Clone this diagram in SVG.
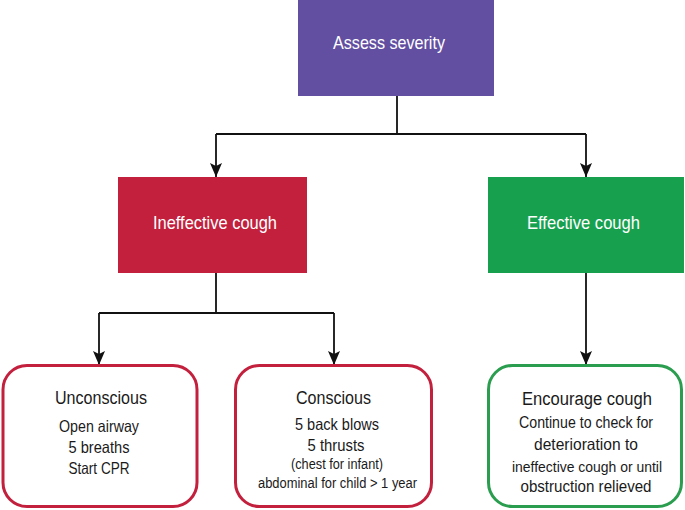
<svg xmlns="http://www.w3.org/2000/svg" width="685" height="510" viewBox="0 0 685 510">
<defs>
<marker id="arr" markerUnits="userSpaceOnUse" markerWidth="14" markerHeight="12" refX="14" refY="6" orient="auto" viewBox="0 0 14 12">
<path d="M0,0 L3,6 L0,12 L14,6 Z" fill="#111"/>
</marker>
<style>
.t{font-family:"Liberation Sans",Arial,sans-serif;text-anchor:middle}
.w{fill:#ffffff;font-size:18.5px}
.h{fill:#1a1a1a;font-size:18px}
.b{fill:#1a1a1a;font-size:16.5px}
.s{fill:#1a1a1a;font-size:14px}
.c{fill:none;stroke:#111;stroke-width:1.8}
</style>
</defs>
<rect width="685" height="510" fill="#ffffff"/>
<g id="connectors">
<path class="c" d="M397,96 V134 M216,134 H586"/>
<path class="c" d="M216,134 V177" marker-end="url(#arr)"/>
<path class="c" d="M586,134 V177" marker-end="url(#arr)"/>
<path class="c" d="M216,273 V313 M99,313 H334"/>
<path class="c" d="M99,313 V365" marker-end="url(#arr)"/>
<path class="c" d="M334,313 V365" marker-end="url(#arr)"/>
<path class="c" d="M586,273 V365" marker-end="url(#arr)"/>
</g>
<g id="assess">
<rect x="298" y="0" width="196" height="96" fill="#624fa1"/>
<text class="t w" x="389" y="49" textLength="112" lengthAdjust="spacingAndGlyphs">Assess severity</text>
</g>
<g id="ineffective">
<rect x="118" y="177" width="189" height="96" fill="#c2203d"/>
<text class="t w" x="215" y="229" textLength="124" lengthAdjust="spacingAndGlyphs">Ineffective cough</text>
</g>
<g id="effective">
<rect x="488" y="177" width="196" height="96" fill="#17a14f"/>
<text class="t w" x="583.5" y="229" textLength="113" lengthAdjust="spacingAndGlyphs">Effective cough</text>
</g>
<g id="unconscious">
<rect x="3" y="365.5" width="194" height="141" rx="24" fill="#fff" stroke="#c2203d" stroke-width="3"/>
<text class="t h" x="101" y="404" textLength="92" lengthAdjust="spacingAndGlyphs">Unconscious</text>
<text class="t b" x="99" y="432" textLength="80" lengthAdjust="spacingAndGlyphs">Open airway</text>
<text class="t b" x="99" y="453" textLength="61" lengthAdjust="spacingAndGlyphs">5 breaths</text>
<text class="t b" x="99" y="474" textLength="61" lengthAdjust="spacingAndGlyphs">Start CPR</text>
</g>
<g id="conscious">
<rect x="235.5" y="365.5" width="196" height="141" rx="24" fill="#fff" stroke="#c2203d" stroke-width="3"/>
<text class="t h" x="333.5" y="404" textLength="75" lengthAdjust="spacingAndGlyphs">Conscious</text>
<text class="t b" x="337" y="430" textLength="84" lengthAdjust="spacingAndGlyphs">5 back blows</text>
<text class="t b" x="336" y="451" textLength="57" lengthAdjust="spacingAndGlyphs">5 thrusts</text>
<text class="t s" x="337" y="469" textLength="92" lengthAdjust="spacingAndGlyphs">(chest for infant)</text>
<text class="t s" x="337.5" y="488" textLength="159" lengthAdjust="spacingAndGlyphs">abdominal for child &gt; 1 year</text>
</g>
<g id="encourage">
<rect x="488.5" y="365.5" width="193" height="141" rx="24" fill="#fff" stroke="#2a9d4f" stroke-width="3"/>
<text class="t h" x="587" y="405" textLength="130" lengthAdjust="spacingAndGlyphs">Encourage cough</text>
<text class="t b" x="586" y="428" textLength="134" lengthAdjust="spacingAndGlyphs">Continue to check for</text>
<text class="t b" x="586" y="450" textLength="104" lengthAdjust="spacingAndGlyphs">deterioration to</text>
<text class="t b" x="587" y="472" style="font-size:15px" textLength="150" lengthAdjust="spacingAndGlyphs">ineffective cough or until</text>
<text class="t b" x="586" y="492" textLength="131" lengthAdjust="spacingAndGlyphs">obstruction relieved</text>
</g>
</svg>
